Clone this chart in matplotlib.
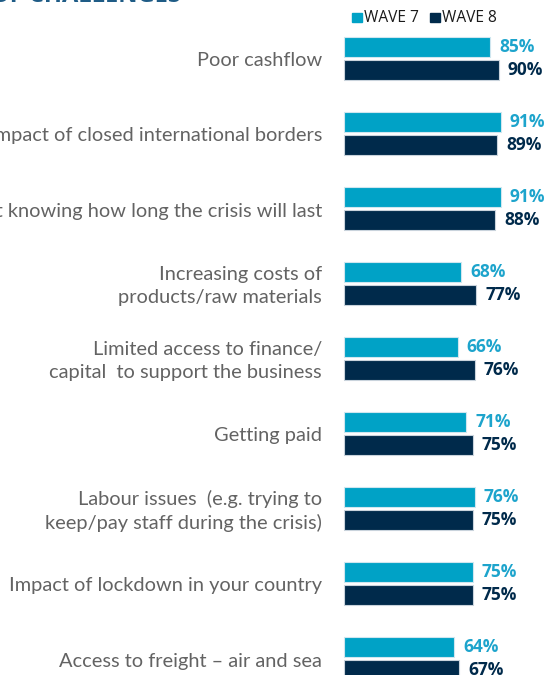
import matplotlib
matplotlib.use("Agg")
import matplotlib.pyplot as plt
from matplotlib.patches import Rectangle
import numpy as np

categories = [
    "Poor cashflow",
    "Impact of closed international borders",
    "Not knowing how long the crisis will last",
    "Increasing costs of\nproducts/raw materials",
    "Limited access to finance/\ncapital  to support the business",
    "Getting paid",
    "Labour issues  (e.g. trying to\nkeep/pay staff during the crisis)",
    "Impact of lockdown in your country",
    "Access to freight \u2013 air and sea",
]
wave7 = [85, 91, 91, 68, 66, 71, 76, 75, 64]
wave8 = [90, 89, 88, 77, 76, 75, 75, 75, 67]
series_names = ["WAVE 7", "WAVE 8"]

C7 = "#00A2C6"
C8 = "#002A4B"
LABEL_GREY = "#636363"

W, H = 546, 675
fig = plt.figure(figsize=(W / 100, H / 100), dpi=100)

x0 = 344
px_per_pct = 1.72
row0 = 58.5
row_step = 75.0
ax = fig.add_axes([x0 / W, 0, 100 * px_per_pct / W, 1])
ax.set_xlim(0, 100)
ax.set_ylim((H - row0) / row_step, -row0 / row_step)
ax.axis("off")

y = np.arange(len(categories))
bh = 20 / row_step
off = 11.6 / row_step
ax.barh(y - off, wave7, height=bh, color=C7, edgecolor="#cfe6ef", linewidth=0.8, clip_on=False)
ax.barh(y + off, wave8, height=bh, color=C8, edgecolor="#c9d3dc", linewidth=0.8, clip_on=False)

for yi, v7, v8 in zip(y, wave7, wave8):
    ax.annotate(f"{v7}%", (v7, yi - off), xytext=(9, 0), textcoords="offset pixels",
                va="center", ha="left", fontsize=12.5, fontweight="bold", color="#1da4cc",
                family="Open Sans", annotation_clip=False)
    ax.annotate(f"{v8}%", (v8, yi + off), xytext=(9, 0), textcoords="offset pixels",
                va="center", ha="left", fontsize=12.5, fontweight="bold", color=C8,
                family="Open Sans", annotation_clip=False)
    ax.annotate(categories[yi], (0, yi), xytext=(-22, -2.5), textcoords="offset pixels",
                va="center", ha="right", fontsize=14.4, color=LABEL_GREY,
                family="Lato", linespacing=1.45, annotation_clip=False)

# legend
for sx, tx, col, name in [(352, 364, C7, series_names[0]), (430, 442, C8, series_names[1])]:
    fig.patches.append(Rectangle((sx / W, 1 - 21.5 / H), 9.5 / W, 9 / H,
                                 transform=fig.transFigure, color=col))
    fig.text(tx / W, 1 - 17.5 / H, name, color="#1a1a1a", fontsize=11.2, va="center",
             ha="left", family="Open Sans")

# clipped title at top
fig.text(181 / W, 1 - 2 / H, "OF CHALLENGES", color="#1f5c86", fontsize=17,
         fontweight="bold", va="baseline", ha="right", family="Open Sans")

fig.savefig("out.png", dpi=100)
